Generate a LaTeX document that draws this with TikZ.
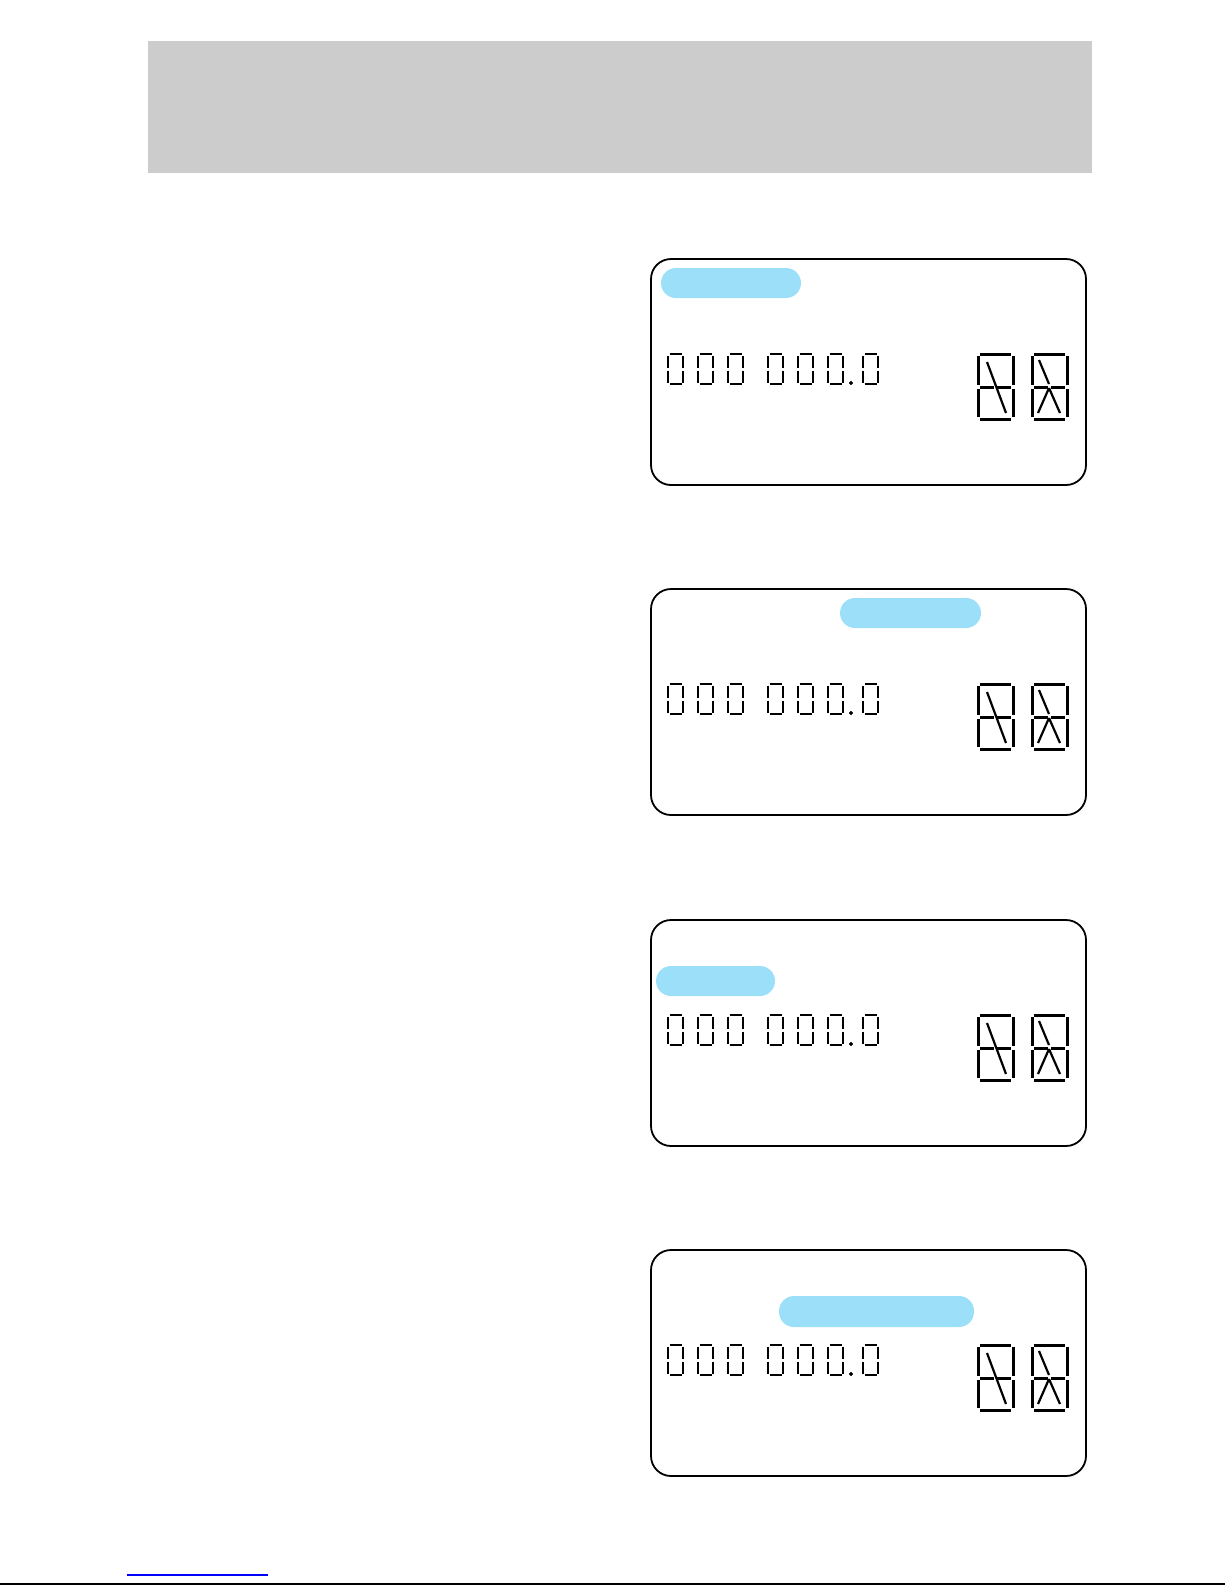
\documentclass[tikz,border=0pt]{standalone}
\usepackage{tikz}
\usetikzlibrary{shapes}
\definecolor{bannergray}{RGB}{204,204,204}
\definecolor{pillblue}{RGB}{155,223,248}
\definecolor{linkblue}{RGB}{0,0,255}
\newcommand{\segzero}[2]{%
  \begin{scope}[shift={(#1,#2)}]
    \draw[seg](1.5,0)--(13.5,0);
    \draw[seg](1.5,30)--(13.5,30);
    \foreach \sx in {0,15}
      \foreach \sy in {1.5,16.5}
        \draw[seg](\sx,\sy)--++(0,12);
  \end{scope}}
\newcommand{\segframe}[2]{%
  \begin{scope}[shift={(#1,#2)}]
    \draw[bigseg](2,0)--(33,0);
    \draw[bigseg](2,65)--(33,65);
    \draw[bigseg](2,33)--(16,33);
    \draw[bigseg](19,33)--(33,33);
    \foreach \sx in {0,35}{
      \draw[bigseg](\sx,2)--(\sx,31);
      \draw[bigseg](\sx,35)--(\sx,63);}
  \end{scope}}
\begin{document}
\begin{tikzpicture}[x=0.5pt,y=-0.5pt,
    panel/.style={draw=black,line width=0.9pt,rounded corners=10pt},
    pill/.style={fill=pillblue,rounded corners=7.5pt},
    seg/.style={line width=1pt},
    bigseg/.style={line width=1.5pt},
    diag/.style={line width=1.1pt}]
                \useasboundingbox(0,0)rectangle(1225,1585);
                \fill[bannergray](148,41)rectangle(1092,173);
                \foreach \top/\px/\pw/\py/\ph in {259/661/140/9/30,589/840/141/9/30,920/656/119/46/30,1250/779/195/46/31}{
                    \draw[panel](651,\top)rectangle(1086,\top+226);
                    \fill[pill](\px,\top+\py)rectangle(\px+\pw,\top+\py+\ph);
                    \foreach \dx in {0,30,60,100,130,160,195}
                        \segzero{668+\dx}{\top+95}
                    \fill(851,\top+124)circle(1.6);
                    \segframe{978}{\top+95}
                    \segframe{1032}{\top+95}
                    \draw[diag](987,\top+103)--(1006,\top+154);
                    \draw[diag](1039,\top+101)--(1049,\top+125);
                    \draw[diag](1049,\top+129)--(1038,\top+154);
                    \draw[diag](1049,\top+129)--(1060,\top+154);
                }
                \draw[linkblue,line width=0.7pt](127,1575)--(268,1575);
                \draw[line width=0.9pt](0,1584)--(1225,1584);
\end{tikzpicture}
\end{document}
